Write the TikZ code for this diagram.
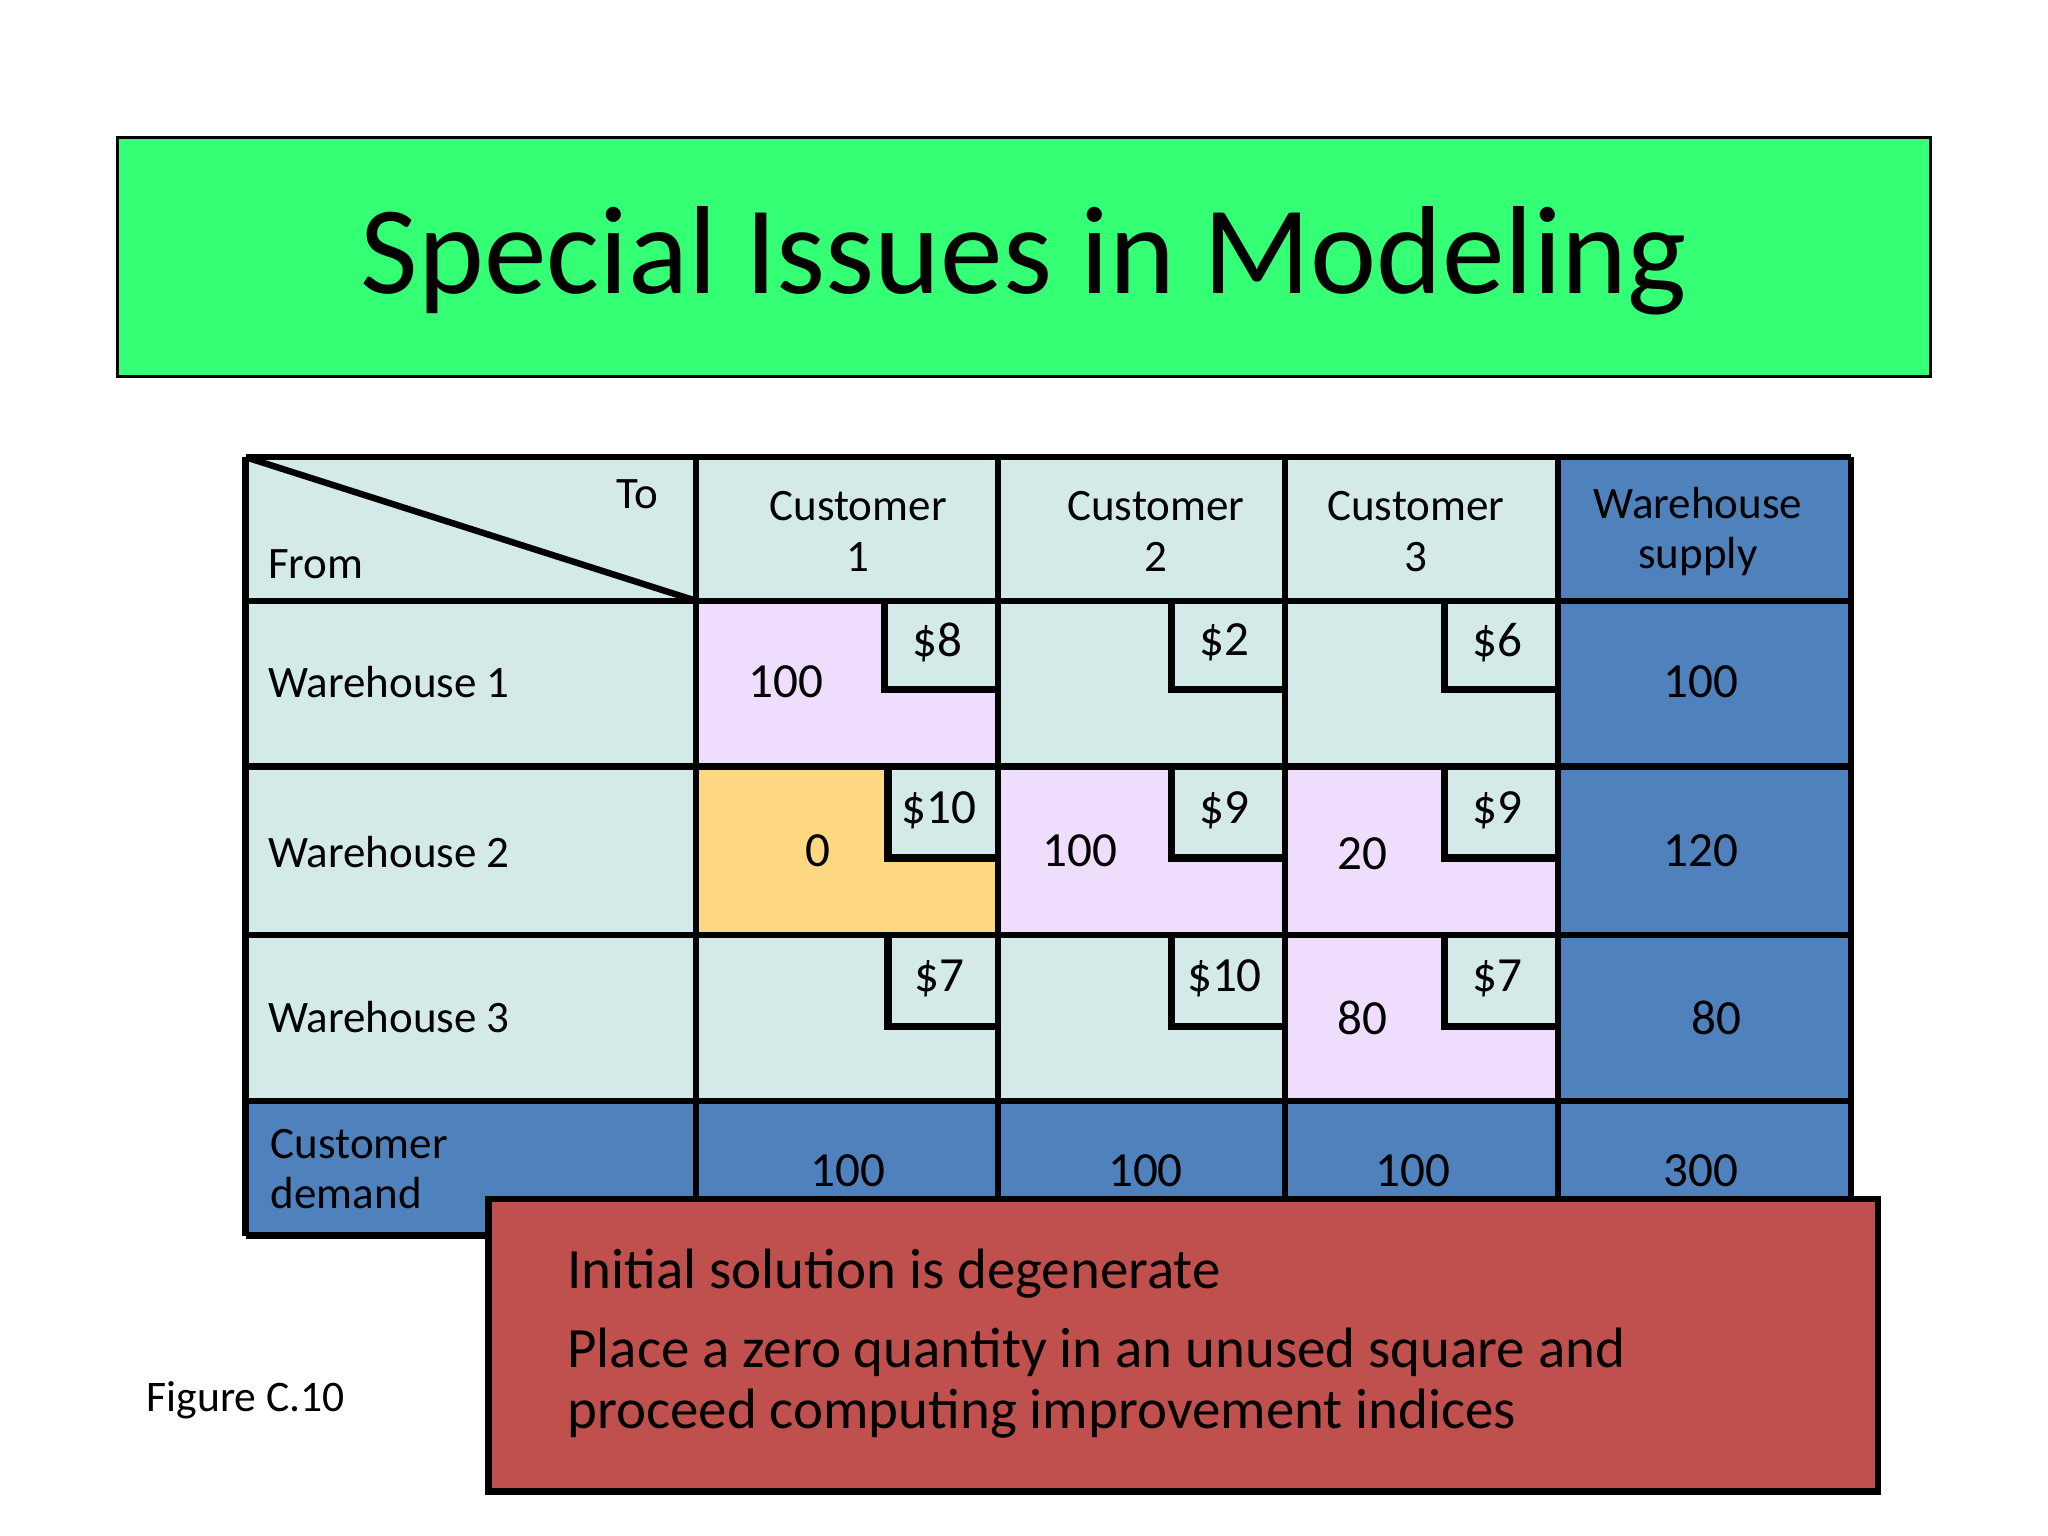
\documentclass[tikz,border=0pt]{standalone}
\usepackage{fontspec}
\setmainfont{Carlito}
\definecolor{cy}{HTML}{D3EAE9}
\definecolor{pk}{HTML}{EEDDFD}
\definecolor{og}{HTML}{FED783}
\definecolor{bl}{HTML}{4F81BD}
\definecolor{gr}{HTML}{35FF75}
\definecolor{rd}{HTML}{C0504D}
\begin{document}
\begin{tikzpicture}[x=0.1mm,y=-0.1mm,
 cell/.style={draw=black,line width=1.4pt},
 num/.style={font=\fontsize{10.7}{12}\selectfont},
 hd/.style={font=\fontsize{9.8}{11}\selectfont,align=center},
 lab/.style={font=\fontsize{9.8}{11}\selectfont,anchor=west,align=left}]
\useasboundingbox (0,0) rectangle (1568,1176);
\fill[white] (0,0) rectangle (1568,1176);
% title
\draw[fill=gr,line width=0.6pt] (90,105) rectangle (1478,288);
\node[font=\fontsize{27.3}{30}\selectfont] (tt) at (784,200) {Special Issues in Modeling};
% cells
\def\xs{{188,533,764,984,1193,1417}}
\def\ys{{350,460,587,716,843,946}}
\foreach \c/\r/\col in {0/0/cy,1/0/cy,2/0/cy,3/0/cy,4/0/bl,
 0/1/cy,1/1/pk,2/1/cy,3/1/cy,4/1/bl,
 0/2/cy,1/2/og,2/2/pk,3/2/pk,4/2/bl,
 0/3/cy,1/3/cy,2/3/cy,3/3/pk,4/3/bl,
 0/4/bl,1/4/bl,2/4/bl,3/4/bl,4/4/bl}{
 \pgfmathsetmacro\xa{\xs[\c]}\pgfmathsetmacro\xb{\xs[\c+1]}
 \pgfmathsetmacro\ya{\ys[\r]}\pgfmathsetmacro\yb{\ys[\r+1]}
 \fill[\col] (\xa,\ya) rectangle (\xb,\yb);}
% cost boxes
\foreach \r/\xl/\yb/\cost/\nm in {1/677/528/\$8/a,1/897/528/\$2/b,1/1106/528/\$6/c,
 2/680/657/\$10/d,2/897/657/\$9/e,2/1106/657/\$9/f,
 3/680/786/\$7/g,3/897/786/\$10/h,3/1106/786/\$7/i}{
 \pgfmathsetmacro\ya{\ys[\r]}
 \pgfmathsetmacro\xr{\xl<1000 ? (\xl<800 ? 764 : 984) : 1193}
 \fill[cy] (\xl,\ya) rectangle (\xr,\yb);
 \draw[line width=1.6pt] (\xl,\ya) -- (\xl,\yb) -- (\xr,\yb);
 \node[num] (cost\nm) at ({(\xl+\xr)/2-3},{(\ya+\yb)/2-2}) {\cost};}
% grid lines
\foreach \x in {188,533,764,984,1193,1417}\draw[cell] (\x,350) -- (\x,946);
\foreach \y in {350,460,587,716,843,946}\draw[cell] (188,\y) -- (1417,\y);
\draw[line width=1.4pt] (188,350) -- (533,460);
% headers
\node[hd] (to) at (488,378) {To};
\node[hd,anchor=west] (from) at (193,432) {From};
\node[hd] (c1) at (657,407) {Customer\\1};
\node[hd] (c2) at (885,407) {Customer\\2};
\node[hd] (c3) at (1084,407) {Customer\\3};
\node[hd] (ws) at (1300,407) {Warehouse\\supply};
\node[lab] (w1) at (193,522) {Warehouse 1};
\node[lab] (w2) at (193,652) {Warehouse 2};
\node[lab] (w3) at (193,779) {Warehouse 3};
\node[lab] (cd) at (195,895) {Customer\\demand};
% quantities
\node[num] (q1) at (602,522) {100};
\node[num] (q2) at (626,651) {0};
\node[num] (q3) at (827,651) {100};
\node[num] (q4) at (1043,654) {20};
\node[num] (q5) at (1043,779) {80};
\node[num] (s1) at (1302,522) {100};
\node[num] (s2) at (1302,651) {120};
\node[num] (s3) at (1314,779) {80};
\node[num] (d1) at (649,896) {100};
\node[num] (d2) at (877,896) {100};
\node[num] (d3) at (1082,896) {100};
\node[num] (d4) at (1302,896) {300};
% red box
\draw[fill=rd,line width=1.4pt] (374,918) rectangle (1438,1142);
\node[anchor=west,font=\fontsize{12.4}{14}\selectfont] (r1) at (422,975) {Initial solution is degenerate};
\node[anchor=west,font=\fontsize{12.4}{14}\selectfont] (r2) at (422,1035) {Place a zero quantity in an unused square and};
\node[anchor=west,font=\fontsize{12.4}{14}\selectfont] (r3) at (422,1082) {proceed computing improvement indices};
\node[anchor=west,font=\fontsize{9.5}{11}\selectfont] (fig) at (100,1072) {Figure C.10};
\end{tikzpicture}
\end{document}
